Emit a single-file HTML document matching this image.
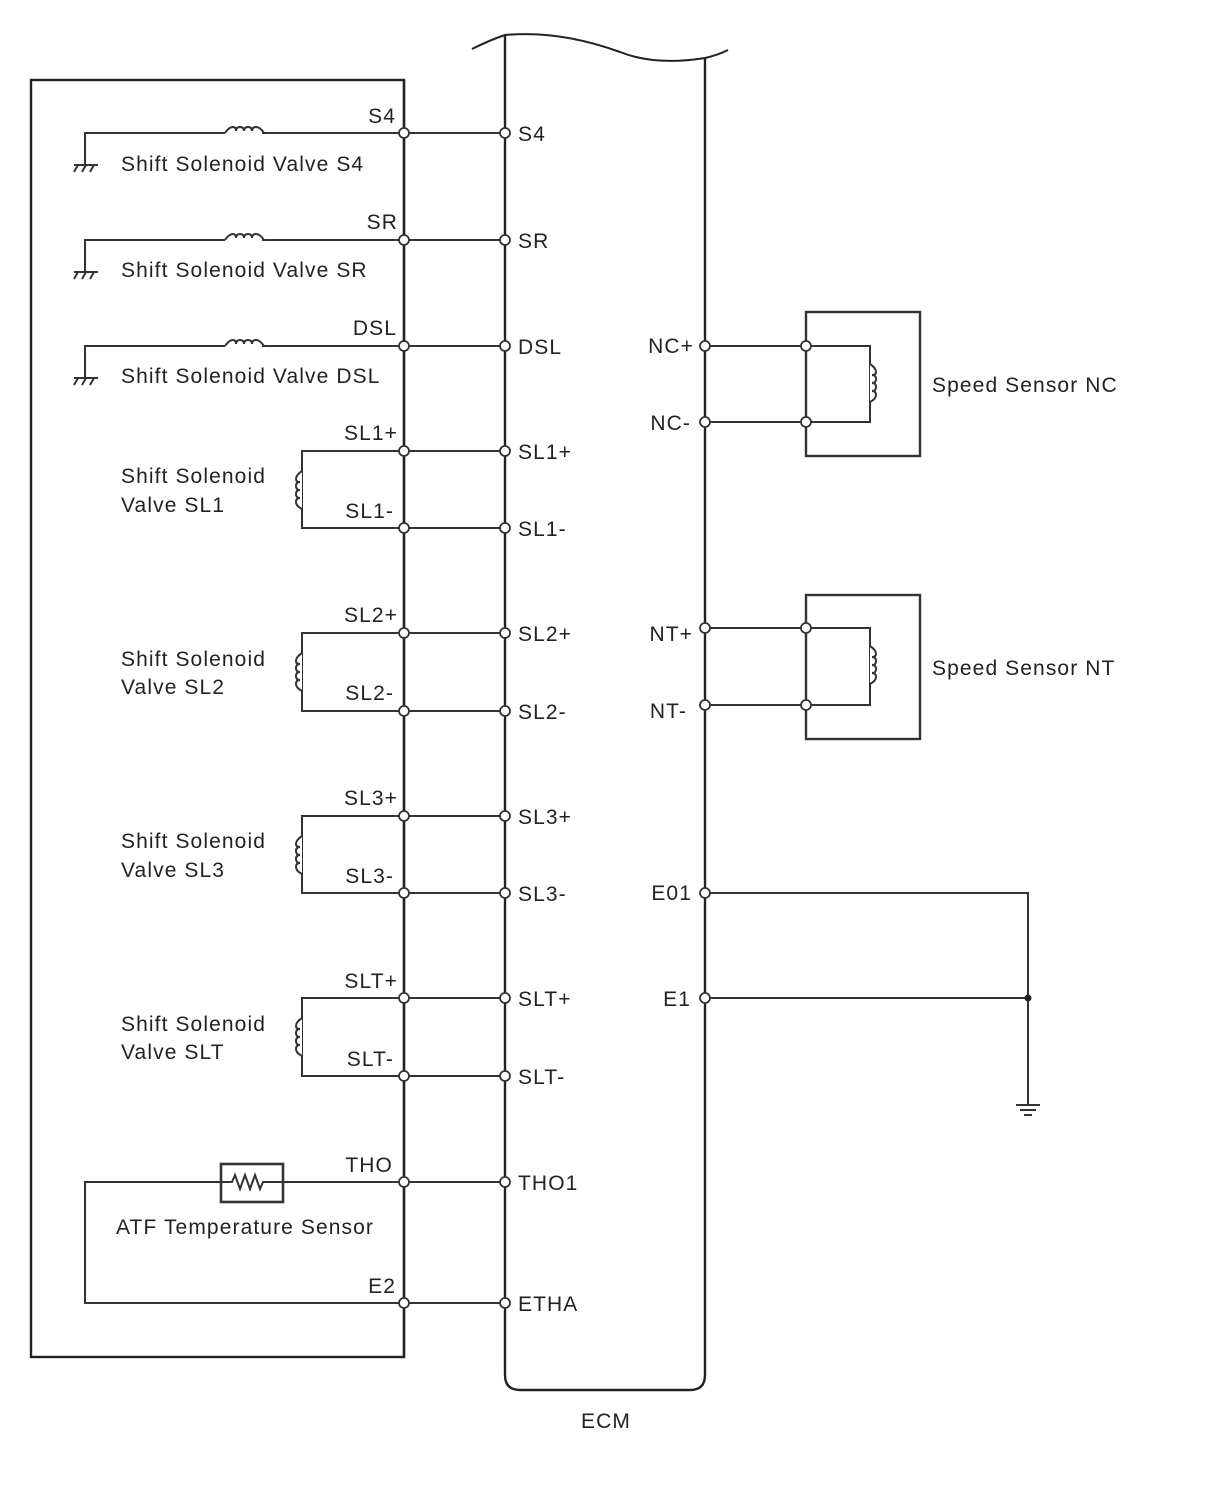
<!DOCTYPE html>
<html><head><meta charset="utf-8"><style>
body{margin:0;background:#fff}
svg{display:block}
text{font-family:"Liberation Sans",sans-serif;font-size:21px;letter-spacing:1.1px;fill:#222}
</style></head><body>
<svg width="1210" height="1488" viewBox="0 0 1210 1488" xmlns="http://www.w3.org/2000/svg">
<g stroke="#222" stroke-width="2.4" fill="none">
<rect x="31" y="80" width="373" height="1277"/>
<path d="M404 80V1357"/>
<path d="M472 49 Q490 40 505 35 Q560 30 620 52 Q655 66 705 58 Q718 55 728 50" stroke-width="2"/>
<path d="M505 35V1375 Q505 1390 520 1390 H690 Q705 1390 705 1375 V58"/>
</g>
<g stroke="#333" stroke-width="2" fill="none">
<path d="M85 165V133H225 M262 133H505"/>
<path d="M85 272V240H225 M262 240H505"/>
<path d="M85 378V346H225 M262 346H505"/>
<path d="M225 133q4-6 8-6 q3 0 3 4 q0-4 4-4 q4 0 4 4 q0-4 4-4 q4 0 4 4 q0-4 4-4 q4 0 8 6"/>
<path d="M225 240q4-6 8-6 q3 0 3 4 q0-4 4-4 q4 0 4 4 q0-4 4-4 q4 0 4 4 q0-4 4-4 q4 0 8 6"/>
<path d="M225 346q4-6 8-6 q3 0 3 4 q0-4 4-4 q4 0 4 4 q0-4 4-4 q4 0 4 4 q0-4 4-4 q4 0 8 6"/>
<g>
<path d="M74 165H98 M78 165l-4 7 M86 165l-4 7 M94 165l-4 7"/>
<path d="M74 272H98 M78 272l-4 7 M86 272l-4 7 M94 272l-4 7"/>
<path d="M74 378H98 M78 378l-4 7 M86 378l-4 7 M94 378l-4 7"/>
</g>
<path d="M505 451H302V528H505"/>
<path d="M505 633H302V711H505"/>
<path d="M505 816H302V893H505"/>
<path d="M505 998H302V1076H505"/>
</g>
<g stroke="#333" stroke-width="2" fill="#fff">
<path d="M302 471q-6 4-6 8 q0 3 4 3 q-4 0-4 4 q0 4 4 4 q-4 0-4 4 q0 4 4 4 q-4 0-4 4 q0 4 6 7"/>
<path d="M302 653q-6 4-6 8 q0 3 4 3 q-4 0-4 4 q0 4 4 4 q-4 0-4 4 q0 4 4 4 q-4 0-4 4 q0 4 6 7"/>
<path d="M302 836q-6 4-6 8 q0 3 4 3 q-4 0-4 4 q0 4 4 4 q-4 0-4 4 q0 4 4 4 q-4 0-4 4 q0 4 6 7"/>
<path d="M302 1018q-6 4-6 8 q0 3 4 3 q-4 0-4 4 q0 4 4 4 q-4 0-4 4 q0 4 4 4 q-4 0-4 4 q0 4 6 7"/>
</g>
<g stroke="#333" stroke-width="2" fill="none">
<path d="M505 1182H85V1303H505"/>
<rect x="221" y="1164" width="62" height="38" fill="#fff" stroke-width="2.6"/>
<path d="M221 1182H232l3-7 5 14 5-14 5 14 5-14 5 14 3-7H283"/>
<rect x="806" y="312" width="114" height="144" stroke-width="2.4"/>
<path d="M705 346H870V422H705"/>
<rect x="806" y="595" width="114" height="144" stroke-width="2.4"/>
<path d="M705 628H870V705H705"/>
<path d="M705 893H1028V1105 M705 998H1028"/>
<path d="M1016 1105H1040 M1020 1110H1036 M1024 1115H1032"/>
</g>
<g stroke="#333" stroke-width="2" fill="#fff">
<path d="M870 364q6 4 6 8 q0 3-4 3 q4 0 4 4 q0 4-4 4 q4 0 4 4 q0 4-4 4 q4 0 4 4 q0 4-6 7"/>
<path d="M870 646q6 4 6 8 q0 3-4 3 q4 0 4 4 q0 4-4 4 q4 0 4 4 q0 4-4 4 q4 0 4 4 q0 4-6 7"/>
</g>
<circle cx="1028" cy="998" r="3.5" fill="#222"/>
<g fill="#fff" stroke="#333" stroke-width="1.8">
<circle cx="404" cy="133" r="5"/><circle cx="505" cy="133" r="5"/>
<circle cx="404" cy="240" r="5"/><circle cx="505" cy="240" r="5"/>
<circle cx="404" cy="346" r="5"/><circle cx="505" cy="346" r="5"/>
<circle cx="404" cy="451" r="5"/><circle cx="505" cy="451" r="5"/>
<circle cx="404" cy="528" r="5"/><circle cx="505" cy="528" r="5"/>
<circle cx="404" cy="633" r="5"/><circle cx="505" cy="633" r="5"/>
<circle cx="404" cy="711" r="5"/><circle cx="505" cy="711" r="5"/>
<circle cx="404" cy="816" r="5"/><circle cx="505" cy="816" r="5"/>
<circle cx="404" cy="893" r="5"/><circle cx="505" cy="893" r="5"/>
<circle cx="404" cy="998" r="5"/><circle cx="505" cy="998" r="5"/>
<circle cx="404" cy="1076" r="5"/><circle cx="505" cy="1076" r="5"/>
<circle cx="404" cy="1182" r="5"/><circle cx="505" cy="1182" r="5"/>
<circle cx="404" cy="1303" r="5"/><circle cx="505" cy="1303" r="5"/>
<circle cx="705" cy="346" r="5"/><circle cx="806" cy="346" r="5"/>
<circle cx="705" cy="422" r="5"/><circle cx="806" cy="422" r="5"/>
<circle cx="705" cy="628" r="5"/><circle cx="806" cy="628" r="5"/>
<circle cx="705" cy="705" r="5"/><circle cx="806" cy="705" r="5"/>
<circle cx="705" cy="893" r="5"/><circle cx="705" cy="998" r="5"/>
</g>
<g text-anchor="end">
<text x="396" y="123">S4</text>
<text x="398" y="229">SR</text>
<text x="397" y="335">DSL</text>
<text x="398" y="440">SL1+</text>
<text x="394" y="518">SL1-</text>
<text x="398" y="622">SL2+</text>
<text x="394" y="700">SL2-</text>
<text x="398" y="805">SL3+</text>
<text x="394" y="883">SL3-</text>
<text x="398" y="988">SLT+</text>
<text x="394" y="1066">SLT-</text>
<text x="393" y="1172">THO</text>
<text x="396" y="1293">E2</text>
<text x="694" y="353">NC+</text>
<text x="691" y="430">NC-</text>
<text x="693" y="641">NT+</text>
<text x="687" y="718">NT-</text>
<text x="692" y="900">E01</text>
<text x="691" y="1006">E1</text>
</g>
<g>
<text x="518" y="141">S4</text>
<text x="518" y="248">SR</text>
<text x="518" y="354">DSL</text>
<text x="518" y="459">SL1+</text>
<text x="518" y="536">SL1-</text>
<text x="518" y="641">SL2+</text>
<text x="518" y="719">SL2-</text>
<text x="518" y="824">SL3+</text>
<text x="518" y="901">SL3-</text>
<text x="518" y="1006">SLT+</text>
<text x="518" y="1084">SLT-</text>
<text x="518" y="1190">THO1</text>
<text x="518" y="1311">ETHA</text>
<text x="121" y="171">Shift Solenoid Valve S4</text>
<text x="121" y="277">Shift Solenoid Valve SR</text>
<text x="121" y="383">Shift Solenoid Valve DSL</text>
<text x="121" y="483">Shift Solenoid</text>
<text x="121" y="512">Valve SL1</text>
<text x="121" y="666">Shift Solenoid</text>
<text x="121" y="694">Valve SL2</text>
<text x="121" y="848">Shift Solenoid</text>
<text x="121" y="877">Valve SL3</text>
<text x="121" y="1031">Shift Solenoid</text>
<text x="121" y="1059">Valve SLT</text>
<text x="116" y="1234">ATF Temperature Sensor</text>
<text x="932" y="392">Speed Sensor NC</text>
<text x="932" y="675">Speed Sensor NT</text>
<text x="606" y="1428" text-anchor="middle">ECM</text>
</g>
</svg>
</body></html>
